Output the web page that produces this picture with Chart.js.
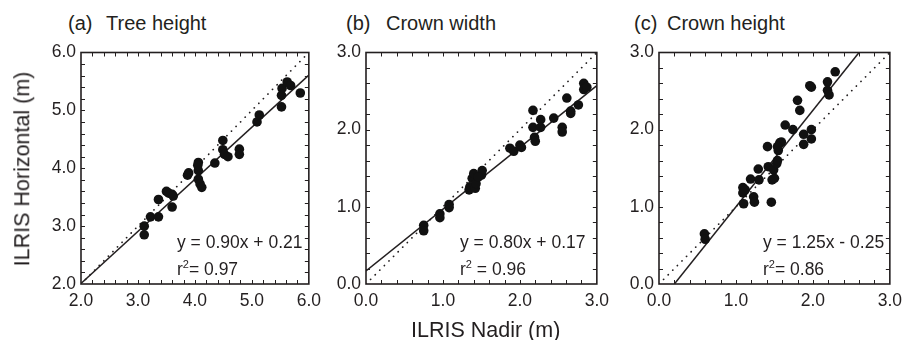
<!DOCTYPE html>
<html>
<head>
<meta charset="utf-8">
<script src="https://cdn.jsdelivr.net/npm/chart.js@4.4.1/dist/chart.umd.min.js"></script>
<style>
  body { margin: 0; background: #fff; }
  #wrap { position: relative; width: 909px; height: 340px; overflow: hidden; font-family: "Liberation Sans", Arial, sans-serif; color: #231f20; }
  canvas { position: absolute; }
  .txt { position: absolute; white-space: nowrap; line-height: 1; }
  .ttl { font-size: 20px; }
  .axt { font-size: 21.5px; }
  .eq { font-size: 17.5px; }
  sup { font-size: 11px; vertical-align: 7px; line-height: 0; }
</style>
</head>
<body>
<div id="wrap">
  <canvas id="c0" width="302" height="279" style="left:26px;top:37px"></canvas>
  <canvas id="c1" width="305" height="279" style="left:311px;top:37px"></canvas>
  <canvas id="c2" width="305" height="279" style="left:604px;top:37px"></canvas>

  <div class="txt ttl" style="left:68px;top:13px">(a)</div>
  <div class="txt ttl" style="left:106px;top:13px">Tree height</div>
  <div class="txt ttl" style="left:346px;top:13px">(b)</div>
  <div class="txt ttl" style="left:386px;top:13px">Crown width</div>
  <div class="txt ttl" style="left:634px;top:13px">(c)</div>
  <div class="txt ttl" style="left:667px;top:13px">Crown height</div>

  <div class="txt axt" style="left:411px;top:320px">ILRIS Nadir (m)</div>
  <div class="txt axt" style="left:23px;top:169px;transform:translate(-50%,-50%) rotate(-90deg)">ILRIS Horizontal (m)</div>

  <div class="txt eq" style="left:177px;top:234px">y = 0.90x + 0.21</div>
  <div class="txt eq" style="left:177px;top:261px">r<sup>2</sup>= 0.97</div>
  <div class="txt eq" style="left:460px;top:234px">y = 0.80x + 0.17</div>
  <div class="txt eq" style="left:460px;top:261px">r<sup>2</sup> = 0.96</div>
  <div class="txt eq" style="left:763px;top:234px">y = 1.25x - 0.25</div>
  <div class="txt eq" style="left:763px;top:261px">r<sup>2</sup>= 0.86</div>
</div>

<script>
// Datos (ILRIS Nadir vs ILRIS Horizontal, m)
const treeX = [3.11, 3.11, 3.22, 3.36, 3.36, 3.54, 3.60, 3.60, 3.50, 3.62, 3.87, 3.89, 4.06, 4.06, 4.06, 4.09, 4.12, 4.05, 4.35, 4.49, 4.49, 4.52, 4.58, 4.78, 4.78, 5.09, 5.13, 5.52, 5.52, 5.53, 5.62, 5.68, 5.85];
const treeY = [3.00, 2.85, 3.16, 3.16, 3.46, 3.57, 3.55, 3.33, 3.60, 3.52, 3.88, 3.92, 4.10, 3.96, 3.81, 3.73, 3.67, 4.05, 4.09, 4.48, 4.32, 4.24, 4.20, 4.33, 4.24, 4.80, 4.92, 5.06, 5.26, 5.38, 5.49, 5.43, 5.30];

const widthX = [0.75, 0.75, 0.96, 0.96, 1.08, 1.08, 1.34, 1.35, 1.38, 1.40, 1.42, 1.43, 1.50, 1.51, 1.46, 1.87, 1.92, 2.00, 2.02, 2.17, 2.17, 2.19, 2.20, 2.27, 2.27, 2.44, 2.55, 2.55, 2.61, 2.66, 2.66, 2.76, 2.83, 2.85, 2.83, 2.87];
const widthY = [0.76, 0.69, 0.91, 0.86, 1.03, 0.99, 1.22, 1.26, 1.37, 1.43, 1.24, 1.30, 1.41, 1.47, 1.39, 1.76, 1.72, 1.80, 1.77, 2.25, 2.03, 1.90, 1.85, 2.13, 2.03, 2.15, 2.03, 1.97, 2.41, 2.24, 2.21, 2.32, 2.60, 2.55, 2.52, 2.55];

const crownX = [0.59, 0.60, 1.09, 1.09, 1.10, 1.12, 1.19, 1.23, 1.24, 1.29, 1.30, 1.41, 1.42, 1.46, 1.47, 1.49, 1.50, 1.53, 1.54, 1.55, 1.57, 1.59, 1.54, 1.64, 1.74, 1.80, 1.83, 1.88, 1.88, 1.96, 1.98, 1.98, 1.98, 2.19, 2.19, 2.21, 2.29];
const crownY = [0.65, 0.58, 1.18, 1.25, 1.04, 1.22, 1.36, 1.13, 1.06, 1.49, 1.35, 1.78, 1.52, 1.06, 1.35, 1.48, 1.37, 1.56, 1.60, 1.73, 1.83, 1.84, 1.78, 2.06, 2.00, 2.38, 2.25, 1.94, 1.81, 2.57, 2.55, 2.00, 1.88, 2.62, 2.51, 2.45, 2.75];

// Rectas de ajuste (pendiente, ordenada) y rango de ejes
const slopes = [0.90, 0.80, 1.25];
const intercepts = [0.21, 0.17, -0.25];
const axisMin = [2, 0, 0];
const axisMax = [6, 3, 3];
const minorStep = 0.2;

const INK = '#231f20';
const FONT = '"Liberation Sans", Arial, sans-serif';

// Marco con marcas hacia dentro en los cuatro lados
const frameTicks = {
  id: 'frameTicks',
  afterDatasetsDraw(chart) {
    const { ctx, chartArea: a, scales: { x, y } } = chart;
    const len = 4;
    ctx.save();
    ctx.strokeStyle = INK;
    ctx.lineWidth = 1;
    ctx.beginPath();
    const n = Math.round((x.max - x.min) / minorStep);
    for (let i = 1; i < n; i++) {
      const v = x.min + i * minorStep;
      const px = Math.round(x.getPixelForValue(v)) + 0.5;
      ctx.moveTo(px, a.bottom); ctx.lineTo(px, a.bottom - len);
      ctx.moveTo(px, a.top); ctx.lineTo(px, a.top + len);
      const py = Math.round(y.getPixelForValue(v)) + 0.5;
      ctx.moveTo(a.left, py); ctx.lineTo(a.left + len, py);
      ctx.moveTo(a.right, py); ctx.lineTo(a.right - len, py);
    }
    ctx.stroke();
    ctx.lineWidth = 1.6;
    ctx.strokeRect(a.left, a.top, a.right - a.left, a.bottom - a.top);
    ctx.restore();
  }
};

function makePanel(id, idx, xs, ys) {
  const lo = axisMin[idx], hi = axisMax[idx];
  const m = slopes[idx], b = intercepts[idx];
  // la recta de ajuste se recorta al rango visible
  const fx0 = Math.max(lo, (lo - b) / m), fx1 = Math.min(hi, (hi - b) / m);

  const axis = (pos) => ({
    type: 'linear',
    position: pos,
    min: lo, max: hi,
    grid: { display: false, drawTicks: false },
    border: { display: false },
    ticks: {
      stepSize: 1,
      color: INK,
      font: { family: FONT, size: 17.5 },
      padding: pos === 'left' ? 5 : 7,
      callback: v => Number(v).toFixed(1)
    },
    afterFit(scale) {
      if (pos === 'left') scale.width = 55; else scale.height = 32;
    }
  });

  return new Chart(document.getElementById(id), {
    type: 'scatter',
    data: {
      datasets: [
        {
          data: xs.map((v, i) => ({ x: v, y: ys[i] })),
          backgroundColor: '#111',
          borderWidth: 0,
          pointRadius: 4.8
        },
        {
          data: [{ x: fx0, y: m * fx0 + b }, { x: fx1, y: m * fx1 + b }],
          showLine: true, borderColor: INK, borderWidth: 1.5, pointRadius: 0
        },
        {
          data: [{ x: lo, y: lo }, { x: hi, y: hi }],
          showLine: true, borderColor: INK, borderWidth: 1.7,
          borderDash: [0.1, 6.4], borderCapStyle: 'round', pointRadius: 0
        }
      ]
    },
    options: {
      responsive: false,
      animation: false,
      devicePixelRatio: 1,
      layout: { padding: { top: 14, right: 16, left: 0, bottom: 0 } },
      plugins: { legend: { display: false }, tooltip: { enabled: false } },
      scales: { x: axis('bottom'), y: axis('left') }
    },
    plugins: [frameTicks]
  });
}

document.addEventListener('DOMContentLoaded', () => {
  makePanel('c0', 0, treeX, treeY);
  makePanel('c1', 1, widthX, widthY);
  makePanel('c2', 2, crownX, crownY);
});
</script>
</body>
</html>
